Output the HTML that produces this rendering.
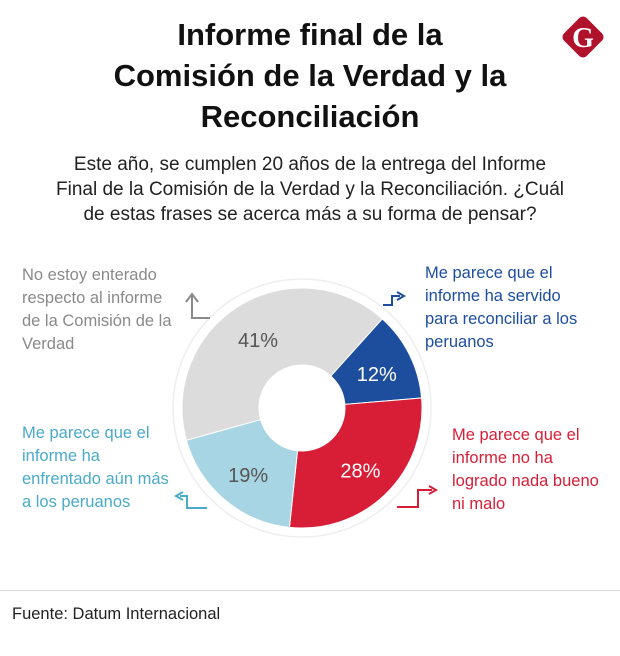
<!DOCTYPE html>
<html><head><meta charset="utf-8"><style>
body{margin:0;width:620px;height:656px;background:#fff;font-family:"Liberation Sans",sans-serif;overflow:hidden;position:relative}
.t{position:absolute;left:0;width:620px;text-align:center}
.lab{position:absolute;font-size:16.5px;line-height:23px}
</style></head><body>
<div class="t" style="top:14px;font-size:31px;font-weight:bold;line-height:41px;color:#111">Informe final de la<br>Comisión de la Verdad y la<br>Reconciliación</div>
<svg style="position:absolute;left:558px;top:12px" width="50" height="50" viewBox="0 0 50 50"><rect x="9" y="9" width="32" height="32" rx="5" transform="rotate(45 25 25)" fill="#b0112b"/><text x="25" y="35" text-anchor="middle" font-size="28" font-weight="bold" fill="#fff" font-family="Liberation Serif,serif">G</text></svg>
<div class="t" style="top:152px;font-size:19px;line-height:25px;color:#222">Este año, se cumplen 20 años de la entrega del Informe<br>Final de la Comisión de la Verdad y la Reconciliación. ¿Cuál<br>de estas frases se acerca más a su forma de pensar?</div>
<svg id="c" style="position:absolute;left:0;top:0" width="620" height="656"></svg>
<div class="lab" style="left:22px;top:264px;color:#8a8a8a">No estoy enterado<br>respecto al informe<br>de la Comisión de la<br>Verdad</div>
<div class="lab" style="left:425px;top:262px;color:#1d4e9e">Me parece que el<br>informe ha servido<br>para reconciliar a los<br>peruanos</div>
<div class="lab" style="left:22px;top:422px;color:#4aaac8">Me parece que el<br>informe ha<br>enfrentado aún más<br>a los peruanos</div>
<div class="lab" style="left:452px;top:424px;color:#d81e36">Me parece que el<br>informe no ha<br>logrado nada bueno<br>ni malo</div>
<div style="position:absolute;left:0;top:590px;width:620px;border-top:1px solid #ddd"></div>
<div style="position:absolute;left:12px;top:605px;font-size:16.5px;color:#222">Fuente: Datum Internacional</div>
<script>
const categories=["Reconciliar","Nada bueno ni malo","Enfrentado","No enterado"];
const values=[12,28,19,41];
const colors=["#1d4e9e","#d81e36","#a8d5e3","#dcdcdc"];
const txtColors=["#fff","#fff","#555","#555"];
const svg=document.getElementById('c');const NS="http://www.w3.org/2000/svg";
const cx=302,cy=408,R=120,r=43,start=42;
const total=values.reduce((a,b)=>a+b,0);
function pt(a,rad){const t=(a-90)*Math.PI/180;return [cx+rad*Math.cos(t),cy+rad*Math.sin(t)];}
const ring=document.createElementNS(NS,'circle');


ring.setAttribute('cx',cx);ring.setAttribute('cy',cy);ring.setAttribute('r',R+9);ring.setAttribute('fill','none');ring.setAttribute('stroke','#eee');ring.setAttribute('stroke-width','1.5');svg.appendChild(ring);
let a=start;
values.forEach((v,i)=>{const sw=v/total*360,a2=a+sw;const L=sw>180?1:0;
const p1=pt(a,R),p2=pt(a2,R),p3=pt(a2,r),p4=pt(a,r);
const p=document.createElementNS(NS,'path');


p.setAttribute('d',`M${p1}A${R},${R} 0 ${L} 1 ${p2}L${p3}A${r},${r} 0 ${L} 0 ${p4}Z`);
p.setAttribute('fill',colors[i]);p.setAttribute('stroke','#fff');p.setAttribute('stroke-width','1');svg.appendChild(p);
const m=pt(a+sw/2,(R+r)/2+2);
const t=document.createElementNS(NS,'text');


t.setAttribute('x',m[0]);t.setAttribute('y',m[1]+10);t.setAttribute('text-anchor','middle');t.setAttribute('font-size','20');t.setAttribute('fill',txtColors[i]);t.setAttribute('font-family','Liberation Sans,sans-serif');t.textContent=v+'%';svg.appendChild(t);
a=a2;});
const arrows=[["arrow-grey","#8a8a8a","M210,318 H192 V296 M186,302 L192,294 L198,302"],
["arrow-blue","#1d4e9e","M383,305 H392 V296 H400 M397,292 L404,296 L397,300"],
["arrow-lightblue","#4aaac8","M207,508 H187 V496 H180 M183,492 L176,496 L183,500"],
["arrow-red","#d81e36","M397,507 H418 V490 H432 M429,486 L436,490 L429,494"]];
arrows.forEach(d=>{const p=document.createElementNS(NS,'path');


p.setAttribute('d',d[2]);p.setAttribute('fill','none');p.setAttribute('stroke',d[1]);p.setAttribute('stroke-width','2');svg.appendChild(p);});
</script>
</body></html>
